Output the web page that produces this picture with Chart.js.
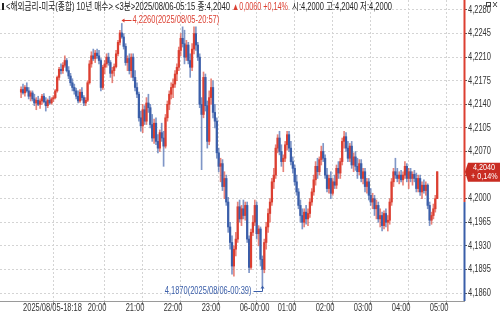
<!DOCTYPE html>
<html>
<head>
<meta charset="utf-8">
<script src="https://cdn.jsdelivr.net/npm/chart.js@4/dist/chart.umd.min.js"></script>
<style>
html, body { margin: 0; padding: 0; background: #fff; }
canvas { display: block; }
</style>
</head>
<body>
<canvas id="candle" width="500" height="314"></canvas>
<script>
// 3분봉 시고저종 (2025/08/05-18:18 ~ 2025/08/06-05:15)
var opens = [
  4.2158,4.2162,4.2157,4.2165,4.2160,4.2152,4.2157,4.2148,4.2142,4.2146,
  4.2140,4.2145,4.2152,4.2144,4.2138,4.2146,4.2142,4.2148,4.2150,4.2160,
  4.2180,4.2192,4.2190,4.2198,4.2205,4.2190,4.2182,4.2172,4.2165,4.2160,
  4.2152,4.2145,4.2158,4.2150,4.2142,4.2146,4.2172,4.2200,4.2212,4.2208,
  4.2216,4.2212,4.2205,4.2165,4.2195,4.2200,4.2210,4.2202,4.2186,4.2190,
  4.2196,4.2215,4.2232,4.2246,4.2240,4.2226,4.2202,4.2208,4.2190,4.2210,
  4.2180,4.2165,4.2155,4.2120,4.2108,4.2132,4.2115,4.2142,4.2135,4.2110,
  4.2090,4.2112,4.2085,4.2075,4.2098,4.2090,4.2078,4.2120,4.2140,4.2155,
  4.2165,4.2170,4.2185,4.2195,4.2220,4.2238,4.2230,4.2210,4.2228,4.2205,
  4.2195,4.2222,4.2245,4.2228,4.2210,4.2140,4.2125,4.2180,4.2138,4.2085,
  4.2150,4.2165,4.2128,4.2115,4.2068,4.2048,4.2052,4.2018,4.2030,4.1995,
  4.1958,4.1935,4.1900,4.1925,4.1940,4.1988,4.1970,4.1985,4.1975,4.1990,
  4.1940,4.1898,4.1950,4.1965,4.1990,4.1948,4.1955,4.1910,4.1895,4.1935,
  4.1958,4.1978,4.1995,4.2025,4.2035,4.2075,4.2090,4.2070,4.2055,4.2060,
  4.2080,4.2095,4.2075,4.2055,4.2045,4.2025,4.2010,4.1990,4.1975,4.1965,
  4.1980,4.1970,4.1978,4.1995,4.2010,4.2028,4.2048,4.2040,4.2058,4.2070,
  4.2060,4.2035,4.2015,4.2030,4.2008,4.2025,4.2020,4.2045,4.2038,4.2055,
  4.2085,4.2092,4.2075,4.2060,4.2078,4.2050,4.2062,4.2048,4.2040,4.2052,
  4.2030,4.2040,4.2018,4.2025,4.2005,4.1995,4.2000,4.1985,4.1990,4.1970,
  4.1975,4.1960,4.1978,4.1965,4.1968,4.1995,4.2025,4.2040,4.2035,4.2030,
  4.2035,4.2028,4.2035,4.2048,4.2030,4.2040,4.2030,4.2036,4.2030,4.2015,
  4.2030,4.2010,4.2020,4.2012,4.2020,4.1990,4.1968,4.1975,4.1985,4.2000
];
var highs = [
  4.2166,4.2170,4.2168,4.2172,4.2165,4.2160,4.2160,4.2155,4.2150,4.2152,
  4.2148,4.2155,4.2156,4.2150,4.2148,4.2152,4.2150,4.2153,4.2162,4.2182,
  4.2195,4.2200,4.2202,4.2212,4.2208,4.2196,4.2186,4.2178,4.2170,4.2164,
  4.2160,4.2162,4.2165,4.2153,4.2150,4.2175,4.2205,4.2218,4.2222,4.2220,
  4.2222,4.2220,4.2208,4.2198,4.2205,4.2215,4.2216,4.2205,4.2195,4.2200,
  4.2220,4.2235,4.2250,4.2260,4.2245,4.2230,4.2212,4.2215,4.2215,4.2215,
  4.2190,4.2172,4.2158,4.2130,4.2140,4.2138,4.2150,4.2155,4.2140,4.2125,
  4.2118,4.2120,4.2095,4.2102,4.2112,4.2100,4.2125,4.2145,4.2160,4.2172,
  4.2178,4.2190,4.2200,4.2225,4.2245,4.2255,4.2250,4.2235,4.2232,4.2215,
  4.2230,4.2255,4.2255,4.2232,4.2215,4.2150,4.2188,4.2185,4.2145,4.2160,
  4.2178,4.2175,4.2140,4.2120,4.2075,4.2060,4.2058,4.2040,4.2035,4.2002,
  4.1965,4.1945,4.1930,4.1950,4.1995,4.1998,4.1990,4.1998,4.1995,4.1995,
  4.1945,4.1955,4.1975,4.1998,4.1995,4.1960,4.1958,4.1915,4.1940,4.1965,
  4.1985,4.2000,4.2030,4.2045,4.2080,4.2095,4.2100,4.2080,4.2065,4.2085,
  4.2100,4.2100,4.2085,4.2062,4.2050,4.2035,4.2015,4.1998,4.1985,4.1985,
  4.1990,4.1985,4.2000,4.2015,4.2035,4.2055,4.2060,4.2062,4.2078,4.2082,
  4.2065,4.2045,4.2035,4.2040,4.2030,4.2035,4.2050,4.2055,4.2060,4.2090,
  4.2100,4.2098,4.2085,4.2082,4.2085,4.2068,4.2070,4.2060,4.2058,4.2058,
  4.2045,4.2045,4.2030,4.2030,4.2015,4.2008,4.2005,4.1998,4.1995,4.1985,
  4.1980,4.1982,4.1985,4.1975,4.2000,4.2030,4.2045,4.2060,4.2045,4.2040,
  4.2042,4.2040,4.2055,4.2052,4.2045,4.2045,4.2040,4.2042,4.2038,4.2035,
  4.2035,4.2025,4.2028,4.2025,4.2022,4.1995,4.1980,4.1992,4.2005,4.2040
];
var lows = [
  4.2150,4.2155,4.2152,4.2158,4.2148,4.2145,4.2145,4.2138,4.2132,4.2138,
  4.2134,4.2140,4.2142,4.2130,4.2135,4.2140,4.2140,4.2144,4.2148,4.2158,
  4.2176,4.2185,4.2186,4.2195,4.2188,4.2178,4.2168,4.2160,4.2155,4.2148,
  4.2142,4.2143,4.2146,4.2138,4.2138,4.2144,4.2170,4.2195,4.2205,4.2202,
  4.2208,4.2200,4.2160,4.2162,4.2185,4.2195,4.2198,4.2180,4.2172,4.2182,
  4.2194,4.2212,4.2228,4.2238,4.2222,4.2198,4.2190,4.2185,4.2180,4.2175,
  4.2160,4.2150,4.2115,4.2100,4.2098,4.2110,4.2110,4.2128,4.2105,4.2085,
  4.2082,4.2080,4.2068,4.2070,4.2085,4.2048,4.2075,4.2115,4.2132,4.2148,
  4.2150,4.2165,4.2175,4.2190,4.2212,4.2225,4.2200,4.2205,4.2200,4.2180,
  4.2190,4.2215,4.2220,4.2205,4.2135,4.2043,4.2120,4.2130,4.2075,4.2080,
  4.2140,4.2120,4.2105,4.2060,4.2040,4.2025,4.2012,4.2000,4.1990,4.1950,
  4.1925,4.1888,4.1885,4.1915,4.1935,4.1965,4.1960,4.1970,4.1968,4.1935,
  4.1890,4.1895,4.1945,4.1960,4.1940,4.1930,4.1900,4.1870,4.1890,4.1925,
  4.1950,4.1965,4.1990,4.2015,4.2030,4.2068,4.2065,4.2048,4.2040,4.2055,
  4.2072,4.2070,4.2050,4.2038,4.2020,4.2005,4.1985,4.1965,4.1955,4.1958,
  4.1962,4.1960,4.1972,4.1990,4.2005,4.2020,4.2030,4.2035,4.2050,4.2055,
  4.2030,4.2010,4.2008,4.2000,4.2005,4.2015,4.2015,4.2030,4.2030,4.2050,
  4.2075,4.2070,4.2055,4.2055,4.2045,4.2040,4.2042,4.2030,4.2035,4.2025,
  4.2022,4.2010,4.2008,4.1998,4.1990,4.1985,4.1975,4.1970,4.1965,4.1958,
  4.1952,4.1955,4.1958,4.1952,4.1962,4.1990,4.2018,4.2030,4.2025,4.2022,
  4.2025,4.2020,4.2030,4.2025,4.2015,4.2025,4.2020,4.2025,4.2010,4.2010,
  4.2005,4.2000,4.2008,4.2005,4.1985,4.1960,4.1962,4.1970,4.1980,4.2000
];
var closes = [
  4.2162,4.2157,4.2165,4.2160,4.2152,4.2157,4.2148,4.2142,4.2146,4.2140,
  4.2145,4.2152,4.2144,4.2138,4.2146,4.2142,4.2148,4.2150,4.2160,4.2180,
  4.2192,4.2190,4.2198,4.2205,4.2190,4.2182,4.2172,4.2165,4.2160,4.2152,
  4.2145,4.2158,4.2150,4.2142,4.2146,4.2172,4.2200,4.2212,4.2208,4.2216,
  4.2212,4.2205,4.2165,4.2195,4.2200,4.2210,4.2202,4.2186,4.2190,4.2196,
  4.2215,4.2232,4.2246,4.2240,4.2226,4.2202,4.2208,4.2190,4.2210,4.2180,
  4.2165,4.2155,4.2120,4.2108,4.2132,4.2115,4.2142,4.2135,4.2110,4.2090,
  4.2112,4.2085,4.2075,4.2098,4.2090,4.2078,4.2120,4.2140,4.2155,4.2165,
  4.2170,4.2185,4.2195,4.2220,4.2238,4.2230,4.2210,4.2228,4.2205,4.2195,
  4.2222,4.2245,4.2228,4.2210,4.2140,4.2125,4.2180,4.2138,4.2085,4.2150,
  4.2165,4.2128,4.2115,4.2068,4.2048,4.2052,4.2018,4.2030,4.1995,4.1958,
  4.1935,4.1900,4.1925,4.1940,4.1988,4.1970,4.1985,4.1975,4.1990,4.1940,
  4.1898,4.1950,4.1965,4.1990,4.1948,4.1955,4.1910,4.1895,4.1935,4.1958,
  4.1978,4.1995,4.2025,4.2035,4.2075,4.2090,4.2070,4.2055,4.2060,4.2080,
  4.2095,4.2075,4.2055,4.2045,4.2025,4.2010,4.1990,4.1975,4.1965,4.1980,
  4.1970,4.1978,4.1995,4.2010,4.2028,4.2048,4.2040,4.2058,4.2070,4.2060,
  4.2035,4.2015,4.2030,4.2008,4.2025,4.2020,4.2045,4.2038,4.2055,4.2085,
  4.2092,4.2075,4.2060,4.2078,4.2050,4.2062,4.2048,4.2040,4.2052,4.2030,
  4.2040,4.2018,4.2025,4.2005,4.1995,4.2000,4.1985,4.1990,4.1970,4.1975,
  4.1960,4.1978,4.1965,4.1968,4.1995,4.2025,4.2040,4.2035,4.2030,4.2035,
  4.2028,4.2035,4.2048,4.2030,4.2040,4.2030,4.2036,4.2030,4.2015,4.2030,
  4.2010,4.2020,4.2012,4.2020,4.1990,4.1968,4.1975,4.1985,4.2000,4.2040
];

// 축 눈금
var yTicks = [4.2280, 4.2245, 4.2210, 4.2175, 4.2140, 4.2105, 4.2070, 4.2035, 4.2000, 4.1965, 4.1930, 4.1895, 4.1860];
var tickIdx = [0, 34, 54, 74, 94, 114, 134, 154, 174, 194, 214];
var tickLabels = ['2025/08/05-18:18', '20:00', '21:00', '22:00', '23:00', '06-00:00', '01:00', '02:00', '03:00', '04:00', '05:00'];

// 최고/최저 표시
var hiIdx = 53, hiText = '4,2260(2025/08/05-20:57)';
var loIdx = 127, loText = '4,1870(2025/08/06-00:39)';
var basePrice = 4.1995;

var RED = '#dc3f31';
var BLUE = '#3a5ea9';
var RED_W = 'rgba(220,63,49,0.65)';
var BLUE_W = 'rgba(58,94,169,0.65)';
var FONT = '"Liberation Sans", "Noto Sans CJK KR", sans-serif';

var up = closes.map(function (c, i) { return c >= opens[i]; });
var wickData = closes.map(function (c, i) { return { x: i, y: [lows[i], highs[i]] }; });
var bodyData = closes.map(function (c, i) { return { x: i, y: [Math.min(opens[i], c), Math.max(opens[i], c)] }; });

function squeeze(ctx, txt, x, y, sx, align) {
  ctx.save();
  ctx.translate(x, y);
  ctx.scale(sx, 1);
  ctx.textAlign = align || 'left';
  ctx.fillText(txt, 0, 0);
  ctx.restore();
}
function fitText(ctx, txt, x, y, w) {
  var nat = ctx.measureText(txt).width;
  squeeze(ctx, txt, x, y, w / nat, 'left');
}

var deco = {
  id: 'deco',
  afterDraw: function (chart) {
    var ctx = chart.ctx, xs = chart.scales.x, ys = chart.scales.y, ca = chart.chartArea;
    ctx.save();
    ctx.textBaseline = 'middle';

    // 오른쪽 가격축 선 (기준가 위 빨강, 아래 파랑)
    var yb = ys.getPixelForValue(basePrice);
    ctx.lineWidth = 2;
    ctx.strokeStyle = RED;
    ctx.beginPath(); ctx.moveTo(ca.right + 0.5, 0); ctx.lineTo(ca.right + 0.5, yb); ctx.stroke();
    ctx.strokeStyle = BLUE;
    ctx.beginPath(); ctx.moveTo(ca.right + 0.5, yb); ctx.lineTo(ca.right + 0.5, ca.bottom); ctx.stroke();

    // 가격 눈금 글자
    ctx.font = '10px ' + FONT;
    ctx.fillStyle = '#333';
    yTicks.forEach(function (v) {
      squeeze(ctx, v.toFixed(4).replace('.', ','), ca.right + 4, ys.getPixelForValue(v), 0.75);
    });

    // 시간 눈금 글자
    tickIdx.forEach(function (v, k) {
      squeeze(ctx, tickLabels[k], Math.max(xs.getPixelForValue(v) + 2, 1), ca.bottom + 7, 0.75);
    });

    // 최고가 표시
    var hx = Math.round(xs.getPixelForValue(hiIdx)) + 0.5;
    var hy = Math.round(ys.getPixelForValue(highs[hiIdx])) - 2.5;
    ctx.strokeStyle = RED; ctx.fillStyle = RED; ctx.lineWidth = 1;
    ctx.beginPath(); ctx.moveTo(hx, hy); ctx.lineTo(hx + 9, hy); ctx.stroke();
    ctx.beginPath(); ctx.moveTo(hx - 1, hy); ctx.lineTo(hx + 2, hy - 2); ctx.lineTo(hx + 2, hy + 2); ctx.closePath(); ctx.fill();
    squeeze(ctx, hiText, hx + 10, hy, 0.75);

    // 최저가 표시
    var lx = Math.round(xs.getPixelForValue(loIdx)) + 0.5;
    var ly = Math.round(ys.getPixelForValue(lows[loIdx])) + 5.5;
    ctx.strokeStyle = BLUE; ctx.fillStyle = BLUE;
    ctx.beginPath(); ctx.moveTo(lx - 9, ly); ctx.lineTo(lx, ly); ctx.lineTo(lx, ly - 4); ctx.stroke();
    ctx.beginPath(); ctx.moveTo(lx, ly - 6); ctx.lineTo(lx - 2, ly - 3); ctx.lineTo(lx + 2, ly - 3); ctx.closePath(); ctx.fill();
    squeeze(ctx, loText, lx - 11, ly, 0.75, 'right');

    // 현재가 태그
    var cy = ys.getPixelForValue(closes[closes.length - 1]);
    ctx.fillStyle = '#c92c22';
    ctx.beginPath();
    ctx.moveTo(ca.right + 1, cy);
    ctx.lineTo(ca.right + 4, cy - 9);
    ctx.lineTo(500, cy - 9);
    ctx.lineTo(500, cy + 10);
    ctx.lineTo(ca.right + 4, cy + 10);
    ctx.closePath(); ctx.fill();
    ctx.fillStyle = '#fff';
    ctx.font = '9px ' + FONT;
    squeeze(ctx, '4,2040', ca.right + 9, cy - 4, 0.8);
    squeeze(ctx, '+ 0,14%', ca.right + 7, cy + 5, 0.8);

    // 상단 제목
    ctx.font = '10px ' + FONT;
    ctx.fillStyle = '#222';
    ctx.fillRect(2, 3, 2, 7);
    fitText(ctx, '<해외금리-미국(종합) 10년 매수> <3분>2025/08/06-05:15 종:4,2040', 6, 7, 224);
    ctx.fillStyle = RED;
    fitText(ctx, '▲0,0060 +0,14%', 232, 7, 56);
    ctx.fillStyle = '#222';
    fitText(ctx, '시:4,2000 고:4,2040 저:4,2000', 292, 7, 100);

    // 창 아이콘
    ctx.strokeStyle = '#444'; ctx.lineWidth = 1;
    ctx.strokeRect(486.5, 2.5, 4, 4);
    ctx.beginPath(); ctx.moveTo(493, 2); ctx.lineTo(497, 7); ctx.moveTo(497, 2); ctx.lineTo(493, 7); ctx.stroke();
    ctx.restore();
  }
};

var ctx = document.getElementById('candle').getContext('2d');
var candleChart = new Chart(ctx, {
  type: 'bar',
  data: {
    datasets: [{
      label: 'wick',
      data: wickData,
      backgroundColor: up.map(function (u) { return u ? RED_W : BLUE_W; }),
      barThickness: 1,
      grouped: false,
      minBarLength: 1
    }, {
      label: 'body',
      data: bodyData,
      backgroundColor: up.map(function (u) { return u ? RED : BLUE; }),
      barThickness: 1.6,
      grouped: false,
      minBarLength: 1
    }]
  },
  options: {
    responsive: false,
    animation: false,
    devicePixelRatio: 1,
    layout: { padding: 0 },
    plugins: { legend: { display: false }, tooltip: { enabled: false } },
    scales: {
      x: {
        type: 'linear',
        min: 0,
        max: 222,
        afterBuildTicks: function (s) { s.ticks = tickIdx.map(function (v) { return { value: v }; }); },
        afterFit: function (s) { s.height = 13; },
        ticks: { display: false },
        grid: { color: '#d4d4d4', tickColor: '#888', tickLength: 4, tickBorderDash: [] },
        border: { display: true, color: '#9a9a9a', dash: [2, 2] }
      },
      y: {
        position: 'right',
        min: 4.184813,
        max: 4.229484,
        afterBuildTicks: function (s) { s.ticks = yTicks.map(function (v) { return { value: v }; }); },
        afterFit: function (s) { s.width = 36; },
        ticks: { display: false },
        grid: { color: '#d4d4d4', tickColor: '#555', tickLength: 3, tickBorderDash: [] },
        border: { display: false, dash: [2, 2] }
      }
    }
  },
  plugins: [deco]
});
</script>
</body>
</html>
